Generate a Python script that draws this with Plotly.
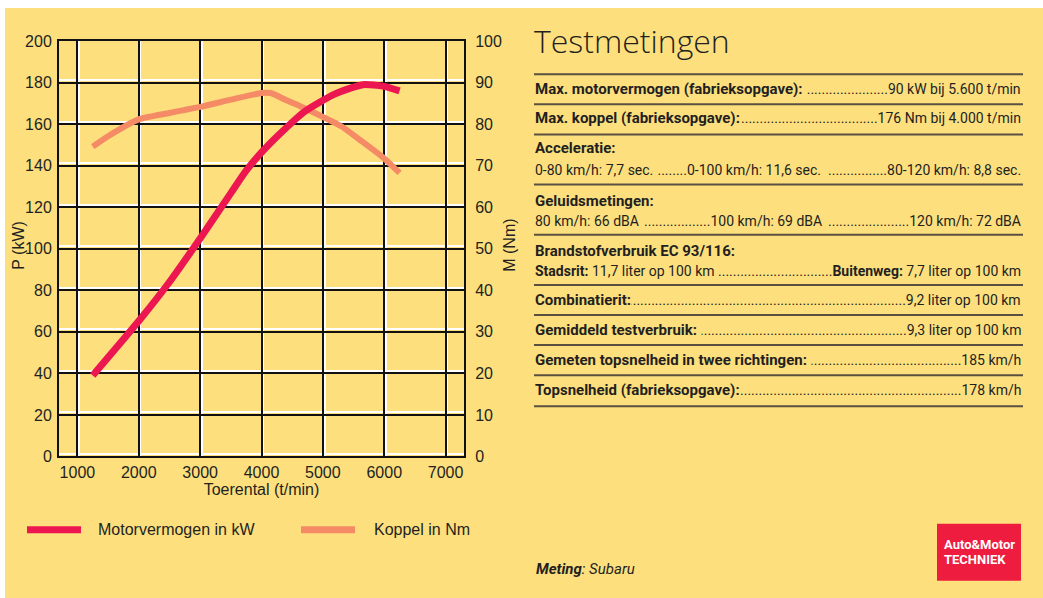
import plotly.graph_objects as go

# ---------------- data ----------------
power_rpm = [1250, 2000, 2500, 3000, 3500, 3750, 4000, 4300, 4700, 5200, 5650, 6000, 6250]
power_kw = [19.5, 32.6, 42.0, 52.5, 63.4, 68.8, 73.2, 77.7, 83.0, 87.3, 89.5, 89.1, 88.0]

torque_rpm = [1250, 1500, 2000, 2500, 3000, 3500, 4000, 4150, 4400, 4650, 5000, 5300, 5600, 6000, 6250]
torque_nm = [149.2, 154.2, 162.3, 165.4, 168.3, 171.8, 175.0, 175.0, 171.6, 168.4, 163.5, 159.0, 152.5, 143.5, 136.5]

x_ticks = [1000, 2000, 3000, 4000, 5000, 6000, 7000]
left_ticks = [0, 20, 40, 60, 80, 100, 120, 140, 160, 180, 200]
right_ticks = [0, 10, 20, 30, 40, 50, 60, 70, 80, 90, 100]

title_text = "Testmetingen"
simple_labels = ["Max. motorvermogen (fabrieksopgave):\u00a0", "Max. koppel (fabrieksopgave):",
                 "Combinatierit:", "Gemiddeld testverbruik:\u00a0",
                 "Gemeten topsnelheid in twee richtingen:\u00a0", "Topsnelheid (fabrieksopgave):"]
simple_values = ["90 kW bij 5.600 t/min", "176 Nm bij 4.000 t/min", "9,2 liter op 100 km",
                 "9,3 liter op 100 km", "185 km/h", "178 km/h"]
headings = ["Acceleratie:", "Geluidsmetingen:", "Brandstofverbruik EC 93/116:"]
accel_parts = ["0-80 km/h: 7,7 sec.", "0-100 km/h: 11,6 sec.", "80-120 km/h: 8,8 sec."]
noise_parts = ["80 km/h: 66 dBA", "100 km/h: 69 dBA", "120 km/h: 72 dBA"]
fuel_parts = ["<b>Stadsrit:</b> 11,7 liter op 100 km", "<b>Buitenweg:</b> 7,7 liter op 100 km"]

# ---------------- style ----------------
W = 1043
OFFY, SY = 8, 0.969   # vertical mapping of the page into the photograph
H = 610
YEL = "#FDDF7E"
RED = "#EC1751"
SAL = "#F58A66"
INK = "#231F20"
RULE = "#5A5040"
F_REG = "Liberation Sans, Arial, sans-serif"
F_TAB = "Roboto, Liberation Sans, sans-serif"


def px(x):
    return x / W


def py(y):
    return 1 - ((y - OFFY) / SY) / H


fig = go.Figure()
fig.add_trace(go.Scatter(x=torque_rpm, y=torque_nm, mode="lines", name="Koppel in Nm",
                         line=dict(color=SAL, width=6, shape="spline", smoothing=0.6),
                         yaxis="y", showlegend=False))
fig.add_trace(go.Scatter(x=power_rpm, y=power_kw, mode="lines", name="Motorvermogen in kW",
                         line=dict(color=RED, width=7, shape="spline", smoothing=0.6),
                         yaxis="y2", showlegend=False))

shapes = [dict(type="rect", xref="paper", yref="paper", x0=px(5), x1=1.0, y0=0, y1=1,
               fillcolor=YEL, line=dict(width=0), layer="below")]
annotations = []

# legend (manual)
for x0, x1, col, tx, name in [(27, 81, RED, 96, "Motorvermogen in kW"), (301, 355, SAL, 372, "Koppel in Nm")]:
    shapes.append(dict(type="line", xref="paper", yref="paper", x0=px(x0), x1=px(x1),
                       y0=py(528), y1=py(528), line=dict(color=col, width=7)))
    annotations.append(dict(xref="paper", yref="paper", x=px(tx), y=py(528), text=name,
                            showarrow=False, xanchor="left", yanchor="middle",
                            font=dict(family=F_REG, size=16, color=INK)))

axfont = dict(family=F_REG, size=16, color=INK)
# axis titles
annotations.append(dict(xref="paper", yref="paper", x=px(19), y=py(245), text="P (kW)", textangle=-90,
                        showarrow=False, xanchor="center", yanchor="middle", font=axfont))
annotations.append(dict(xref="paper", yref="paper", x=px(510), y=py(245), text="M (Nm)", textangle=-90,
                        showarrow=False, xanchor="center", yanchor="middle", font=axfont))

# table title
annotations.append(dict(xref="paper", yref="paper", x=px(532), y=py(40), text=title_text,
                        showarrow=False, xanchor="left", yanchor="middle",
                        font=dict(family="Open Sans, Lato, sans-serif", size=32, color=INK, weight=300)))

# rules
for yy in [74, 104, 134, 184, 234, 284, 314, 344, 374, 405]:
    shapes.append(dict(type="line", xref="paper", yref="paper", x0=px(534), x1=px(1023),
                       y0=py(yy), y1=py(yy), line=dict(color=RULE, width=2)))

XR = 1022
XL = 534


def txt(x, y, text, anchor, bold=False, bg=None, size=14):
    d = dict(xref="paper", yref="paper", x=px(x), y=py(y), text=(f"<b>{text}</b>" if bold else text),
             showarrow=False, xanchor=anchor, yanchor="middle", borderpad=0,
             font=dict(family=F_TAB, size=size, color=INK))
    if bg:
        d["bgcolor"] = bg
    annotations.append(d)


simple_y = [89, 118, 299, 329, 359, 389]
simple_dots = [23, 37, 75, 56, 41, 60]
for lab, val, yy, nd in zip(simple_labels, simple_values, simple_y, simple_dots):
    txt(XR, yy, "." * nd + val, "right")
    txt(XL, yy, lab, "left", bold=True, bg=YEL, size=15)

for hd, yy in zip(headings, [148, 200, 250]):
    txt(XL, yy, hd, "left", bold=True, size=15)

# acceleratie row
txt(XR, 169, "." * 16 + accel_parts[2], "right")
txt(822, 169, "\u00a0" + "." * 8 + accel_parts[1], "right")
txt(XL, 169, accel_parts[0], "left")
# geluid row
txt(XR, 220, "." * 22 + noise_parts[2], "right")
txt(823, 220, "." * 18 + noise_parts[1], "right")
txt(XL, 220, noise_parts[0], "left")
# fuel row
txt(XR, 270, "." * 31 + fuel_parts[1], "right")
txt(XL, 270, fuel_parts[0], "left")

# Meting
annotations.append(dict(xref="paper", yref="paper", x=px(534), y=py(567),
                        text="<b><i>Meting</i></b><i>: Subaru</i>", showarrow=False,
                        xanchor="left", yanchor="middle",
                        font=dict(family=F_TAB, size=15, color=INK)))
# logo
shapes.append(dict(type="rect", xref="paper", yref="paper", x0=px(937), x1=px(1021),
                   y0=py(579), y1=py(522), fillcolor="#EE1C3F", line=dict(width=0)))
annotations.append(dict(xref="paper", yref="paper", x=px(979), y=py(543), text="<b>Auto&amp;Motor</b>",
                        showarrow=False, xanchor="center", yanchor="middle",
                        font=dict(family=F_TAB, size=13, color="white")))
annotations.append(dict(xref="paper", yref="paper", x=px(975), y=py(558), text="<b>TECHNIEK</b>",
                        showarrow=False, xanchor="center", yanchor="middle",
                        font=dict(family=F_TAB, size=13, color="white")))

fig.update_layout(
    width=W, height=H, margin=dict(l=0, r=0, t=0, b=0),
    paper_bgcolor="white", plot_bgcolor="rgba(0,0,0,0)",
    shapes=shapes, annotations=annotations, showlegend=False,
    xaxis=dict(domain=[px(59), px(464)], range=[700, 7300], tickvals=x_ticks,
               showgrid=True, gridcolor="#111", gridwidth=2,
               minor=dict(tickmode="linear", tick0=1028, dtick=1000, showgrid=True,
                          gridcolor="white", gridwidth=1.5),
               showline=True, linecolor="#111", linewidth=2, mirror=True,
               zeroline=False, ticks="", tickfont=axfont,
               title=dict(text="Toerental (t/min)", font=axfont, standoff=2)),
    yaxis=dict(domain=[py(455), py(41)], range=[0, 200], tickvals=left_ticks,
               showgrid=True, gridcolor="#111", gridwidth=2,
               minor=dict(tickmode="linear", tick0=1.2, dtick=20, showgrid=True,
                          gridcolor="white", gridwidth=1.5),
               showline=True, linecolor="#111", linewidth=2,
               zeroline=False, ticks="", tickfont=axfont, ticklabelstandoff=2),
    yaxis2=dict(overlaying="y", side="right", range=[0, 100], tickvals=right_ticks,
                showgrid=False, showline=True, linecolor="#111", linewidth=2,
                zeroline=False, ticks="", tickfont=axfont, ticklabelstandoff=6),
)

post = ("document.documentElement.style.margin='0';document.documentElement.style.padding='0';"
        "document.body.style.margin='0';document.body.style.padding='0';"
        "document.body.style.overflow='hidden';"
        "var gd=document.getElementById('{plot_id}');"
        "gd.style.position='fixed';gd.style.top='0px';gd.style.left='0px';")
fig.write_html("out.html", config={"displayModeBar": False}, post_script=post)
